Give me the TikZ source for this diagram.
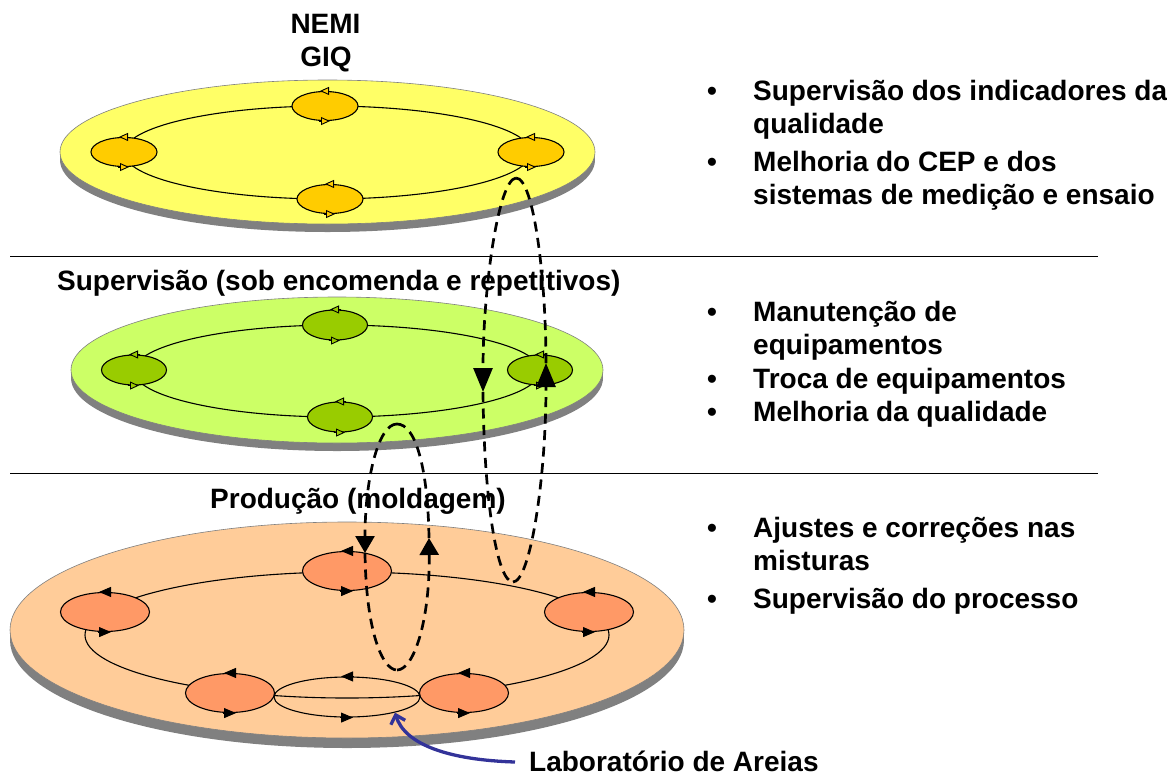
\documentclass[tikz,border=0pt]{standalone}
\usepackage{fontspec}
\setmainfont{Liberation Sans}
\usetikzlibrary{shapes.geometric,arrows.meta}
\definecolor{ydisk}{HTML}{FFFF66}
\definecolor{ynode}{HTML}{FFCC00}
\definecolor{gdisk}{HTML}{CCFF66}
\definecolor{gnode}{HTML}{99CC00}
\definecolor{pdisk}{HTML}{FFCC99}
\definecolor{pnode}{HTML}{FF9966}
\definecolor{shadowgray}{HTML}{808080}
\definecolor{labblue}{HTML}{333399}
\begin{document}
\begin{tikzpicture}[x=1pt,y=-1pt,
  txt/.style={font=\bfseries\fontsize{28}{33}\selectfont, inner sep=0pt, anchor=base west},
  ttl/.style={font=\bfseries\fontsize{28}{33}\selectfont, inner sep=0pt, anchor=base},
  bul/.style={font=\bfseries\fontsize{28}{33}\selectfont, inner sep=0pt, anchor=base},
  ring/.style={draw=black, line width=1.1pt},
  smallnode/.style={ellipse, draw=black, line width=1.1pt, inner sep=0pt},
  ynd/.style={smallnode, fill=ynode, minimum width=66pt, minimum height=29pt},
  gnd/.style={smallnode, fill=gnode, minimum width=65pt, minimum height=30pt},
  pnd/.style={smallnode, fill=pnode, minimum width=89pt, minimum height=39pt},
  ytip/.style={line width=0.9pt, -{Triangle[length=9pt,width=8pt,fill=ynode]}},
  gtip/.style={line width=0.9pt, -{Triangle[length=9pt,width=8pt,fill=gnode]}},
  ptip/.style={line width=0.9pt, -{Triangle[length=12pt,width=10pt]}},
  loopdash/.style={line width=2.7pt, dash pattern=on 10pt off 6.5pt},
  bigtip/.style={-{Triangle[length=24pt,width=19pt]}},
  midtip/.style={-{Triangle[length=17pt,width=19pt]}},
  sep/.style={line width=1pt}
]
\useasboundingbox (0,0) rectangle (1167,774);
\fill[white] (0,0) rectangle (1167,774);

% separators
\draw[sep] (10,256) -- (1098,256);
\draw[sep] (10,473) -- (1098,473);

% ---- yellow disk
\fill[shadowgray] (60,152) rectangle (595,160);
\fill[shadowgray] (327.5,160) ellipse [x radius=267.5pt, y radius=72pt];
\filldraw[fill=ydisk, draw=shadowgray, line width=0.6pt] (327.5,152) ellipse [x radius=267.5pt, y radius=72pt];
\draw[ring] (327.5,152.5) ellipse [x radius=203.5pt, y radius=46.5pt];
\node[ynd] (y1) at (325,106) {};
\node[ynd] (y2) at (124,152) {};
\node[ynd] (y3) at (531,152) {};
\node[ynd] (y4) at (330,199) {};
\foreach \n in {y1,y2,y3,y4}{
  \draw[ytip] ([xshift=6pt]\n.north) -- ([xshift=-5pt]\n.north);
  \draw[ytip] ([xshift=-6pt]\n.south) -- ([xshift=5pt]\n.south);
}

% ---- green disk
\fill[shadowgray] (71,370) rectangle (603,378);
\fill[shadowgray] (337,378) ellipse [x radius=266pt, y radius=73pt];
\filldraw[fill=gdisk, draw=shadowgray, line width=0.6pt] (337,370) ellipse [x radius=266pt, y radius=73pt];
\draw[ring] (337,371) ellipse [x radius=203pt, y radius=46pt];
\node[gnd] (g1) at (335,325) {};
\node[gnd] (g2) at (134,370) {};
\node[gnd] (g3) at (540,370) {};
\node[gnd] (g4) at (340,417) {};
\foreach \n in {g1,g2,g3,g4}{
  \draw[gtip] ([xshift=6pt]\n.north) -- ([xshift=-5pt]\n.north);
  \draw[gtip] ([xshift=-6pt]\n.south) -- ([xshift=5pt]\n.south);
}

% ---- peach disk
\fill[shadowgray] (10,630) rectangle (684,640);
\fill[shadowgray] (347,640) ellipse [x radius=337pt, y radius=108pt];
\filldraw[fill=pdisk, draw=shadowgray, line width=0.6pt] (347,630) ellipse [x radius=337pt, y radius=108pt];
\draw[ring] (347,635) ellipse [x radius=262pt, y radius=63pt];
\node[pnd] (p1) at (347,571) {};
\node[pnd] (p2) at (105,612) {};
\node[pnd] (p3) at (589,612) {};
\node[pnd] (p4) at (230,693) {};
\node[pnd] (p5) at (464,693) {};
\node[ellipse, draw=black, line width=1.1pt, inner sep=0pt, minimum width=146pt, minimum height=40pt] (lab) at (347,697) {};
\foreach \n in {p1,p2,p3,p4,p5,lab}{
  \draw[ptip] ([xshift=7pt]\n.north) -- ([xshift=-6pt]\n.north);
  \draw[ptip] ([xshift=-7pt]\n.south) -- ([xshift=6pt]\n.south);
}

% ---- titles
\node[ttl] (nemi) at (325.5,33) {NEMI};
\node[ttl] (giq) at (326,66) {GIQ};
\node[txt] (tsup) at (57,290) {Supervisão (sob encomenda e repetitivos)};
\node[txt] (tprod) at (210,508) {Produção (moldagem)};
\node[txt] (tlab) at (529,771) {Laboratório de Areias};

% ---- right column
\node[bul] (b1) at (712,100) {•};
\node[txt] (r1a) at (753,100) {Supervisão dos indicadores da};
\node[txt] (r1b) at (753,133) {qualidade};
\node[bul] (b2) at (712,171) {•};
\node[txt] (r2a) at (753,171) {Melhoria do CEP e dos};
\node[txt] (r2b) at (753,204) {sistemas de medição e ensaio};
\node[bul] (b3) at (712,321) {•};
\node[txt] (r3a) at (753,321) {Manutenção de};
\node[txt] (r3b) at (753,354) {equipamentos};
\node[bul] (b4) at (712,388) {•};
\node[txt] (r4) at (753,388) {Troca de equipamentos};
\node[bul] (b5) at (712,421) {•};
\node[txt] (r5) at (753,421) {Melhoria da qualidade};
\node[bul] (b6) at (712,537) {•};
\node[txt] (r6a) at (753,537) {Ajustes e correções nas};
\node[txt] (r6b) at (753,570) {misturas};
\node[bul] (b7) at (712,608) {•};
\node[txt] (r7) at (753,608) {Supervisão do processo};

% ---- dashed loop A
\coordinate (aT) at (516,178);
\coordinate (aL) at (483,392);
\coordinate (aB) at (513,582);
\coordinate (aR) at (546,363);
\draw[loopdash, bigtip] (aT) .. controls (498,180) and (483,290) .. (aL);
\draw[loopdash] (aL) .. controls (484,500) and (497,582) .. (aB);
\draw[loopdash, bigtip] (aB) .. controls (530,582) and (546,480) .. (aR);
\draw[loopdash] (aR) .. controls (546,280) and (534,178) .. (aT);

% ---- dashed loop B
\coordinate (bT) at (397,424);
\coordinate (bL) at (365,553);
\coordinate (bB) at (397,670);
\coordinate (bR) at (429,538);
\draw[loopdash, midtip] (bT) .. controls (378,424) and (365,480) .. (bL);
\draw[loopdash] (bL) .. controls (366,630) and (382,670) .. (bB);
\draw[loopdash, midtip] (bB) .. controls (414,670) and (430,620) .. (bR);
\draw[loopdash] (bR) .. controls (428,470) and (416,424) .. (bT);

% ---- blue pointer to lab
\coordinate (labstart) at (515,762);
\draw[labblue, line width=3.3pt, -{Straight Barb[length=8pt,width=15pt]}] (labstart) .. controls (450,760) and (405,745) .. (lab.-18);
\end{tikzpicture}
\end{document}
